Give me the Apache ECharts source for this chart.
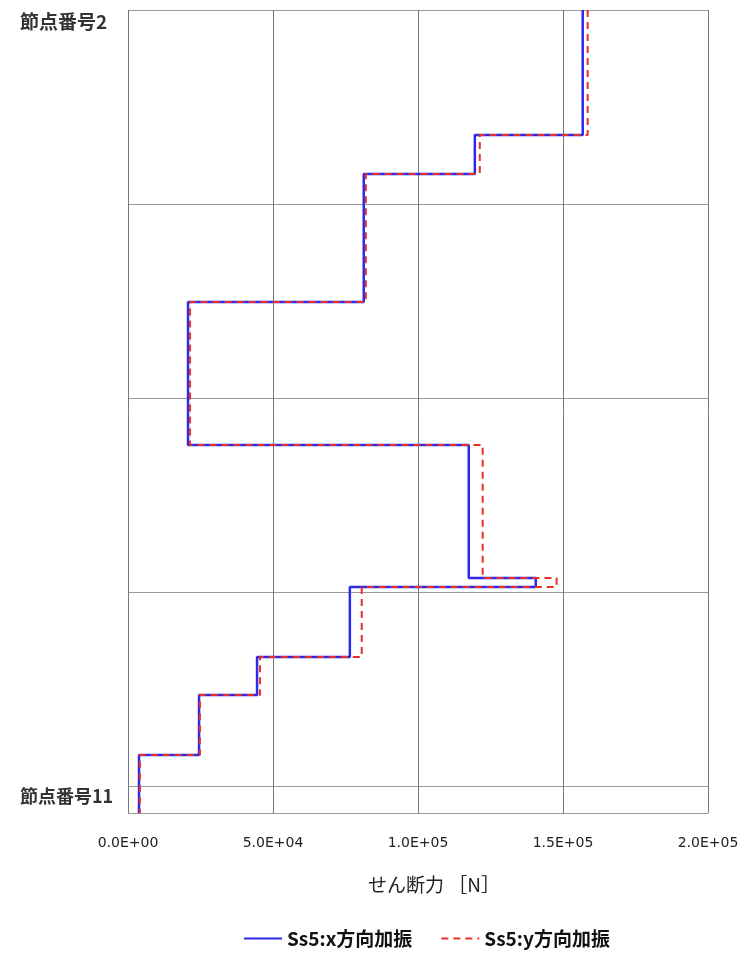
<!DOCTYPE html>
<html>
<head>
<meta charset="utf-8">
<script src="https://cdn.jsdelivr.net/npm/echarts@6/dist/echarts.min.js"></script>
<style>html,body{margin:0;padding:0;background:#fff;}#c{width:749px;height:956px;}</style>
</head>
<body>
<div id="c"></div>
<script>
// Element boundaries along the member (depth units, top = 0)
var boundaries = [0, 6.44, 8.45, 15.05, 22.42, 29.28, 29.74, 33.35, 35.31, 38.40, 41.39];
// Shear force per element [N]
var shearX = [156800, 119600, 81300, 20700, 117500, 140600, 76500, 44500, 24500, 3800];
var shearY = [158500, 121300, 82000, 21400, 122300, 147800, 80600, 45500, 24800, 4100];
var seriesNames = ['Ss5:x方向加振', 'Ss5:y方向加振'];
var xTicks = [0, 50000, 100000, 150000, 200000];
var topLabel = '節点番号2';
var bottomLabel = '節点番号11';
var xAxisName = 'せん断力 ［N］';

function stepPoints(vals) {
  var pts = [];
  for (var i = 0; i < vals.length; i++) {
    pts.push([vals[i], boundaries[i]]);
    pts.push([vals[i], boundaries[i + 1]]);
  }
  return pts;
}
function fmtExp(v) {
  if (v === 0) return '0.0E+00';
  var e = Math.floor(Math.log10(Math.abs(v)));
  var m = v / Math.pow(10, e);
  var es = (e < 0 ? '-' : '+') + (Math.abs(e) < 10 ? '0' : '') + Math.abs(e);
  return m.toFixed(1) + 'E' + es;
}

var chart = echarts.init(document.getElementById('c'), null, {renderer: 'canvas'});
chart.setOption({
  animation: false,
  backgroundColor: '#ffffff',
  grid: {left: 128, right: 41, top: 10, bottom: 143, containLabel: false},
  xAxis: {
    type: 'value',
    min: xTicks[0],
    max: xTicks[xTicks.length - 1],
    interval: xTicks[1] - xTicks[0],
    name: xAxisName,
    nameLocation: 'middle',
    nameGap: 62,
    nameTextStyle: {fontFamily: 'Noto Sans CJK JP', fontSize: 19, color: '#222', padding: [0, 0, 0, 32]},
    axisLine: {show: false},
    axisTick: {show: true, length: 6, lineStyle: {color: '#777'}},
    axisLabel: {margin: 23, fontFamily: 'DejaVu Sans', fontSize: 14, color: '#222', formatter: fmtExp},
    splitLine: {show: true, lineStyle: {color: '#777777', width: 1}}
  },
  yAxis: {
    type: 'value',
    inverse: true,
    min: 0,
    max: boundaries[boundaries.length - 1],
    interval: 10,
    axisLine: {show: false},
    axisTick: {show: false},
    axisLabel: {show: false},
    splitLine: {show: true, lineStyle: {color: '#999999', width: 1}}
  },
  legend: {
    bottom: 3,
    left: 238,
    itemWidth: 38,
    itemHeight: 10,
    itemGap: 28,
    itemStyle: {opacity: 0},
    textStyle: {fontFamily: 'Noto Sans CJK JP', fontSize: 19, fontWeight: 'bold', color: '#111'},
    data: seriesNames
  },
  series: [
    {
      name: seriesNames[0],
      type: 'line',
      data: stepPoints(shearX),
      showSymbol: false,
      symbol: 'none',
      lineStyle: {color: '#2a2ae8', width: 2.5},
      itemStyle: {color: '#2a2ae8'}
    },
    {
      name: seriesNames[1],
      type: 'line',
      data: stepPoints(shearY),
      showSymbol: false,
      symbol: 'none',
      lineStyle: {color: '#e8302a', width: 2, type: [7, 5]},
      itemStyle: {color: '#e8302a'}
    }
  ],
  graphic: [
    {type: 'text', left: 20, top: 12, style: {text: topLabel, fontFamily: 'Noto Sans CJK JP', fontSize: 19, fontWeight: 'bold', fill: '#333'}},
    {type: 'text', left: 20, top: 787, style: {text: bottomLabel, fontFamily: 'Noto Sans CJK JP', fontSize: 18, fontWeight: 'bold', fill: '#333'}}
  ]
});
</script>
</body>
</html>
